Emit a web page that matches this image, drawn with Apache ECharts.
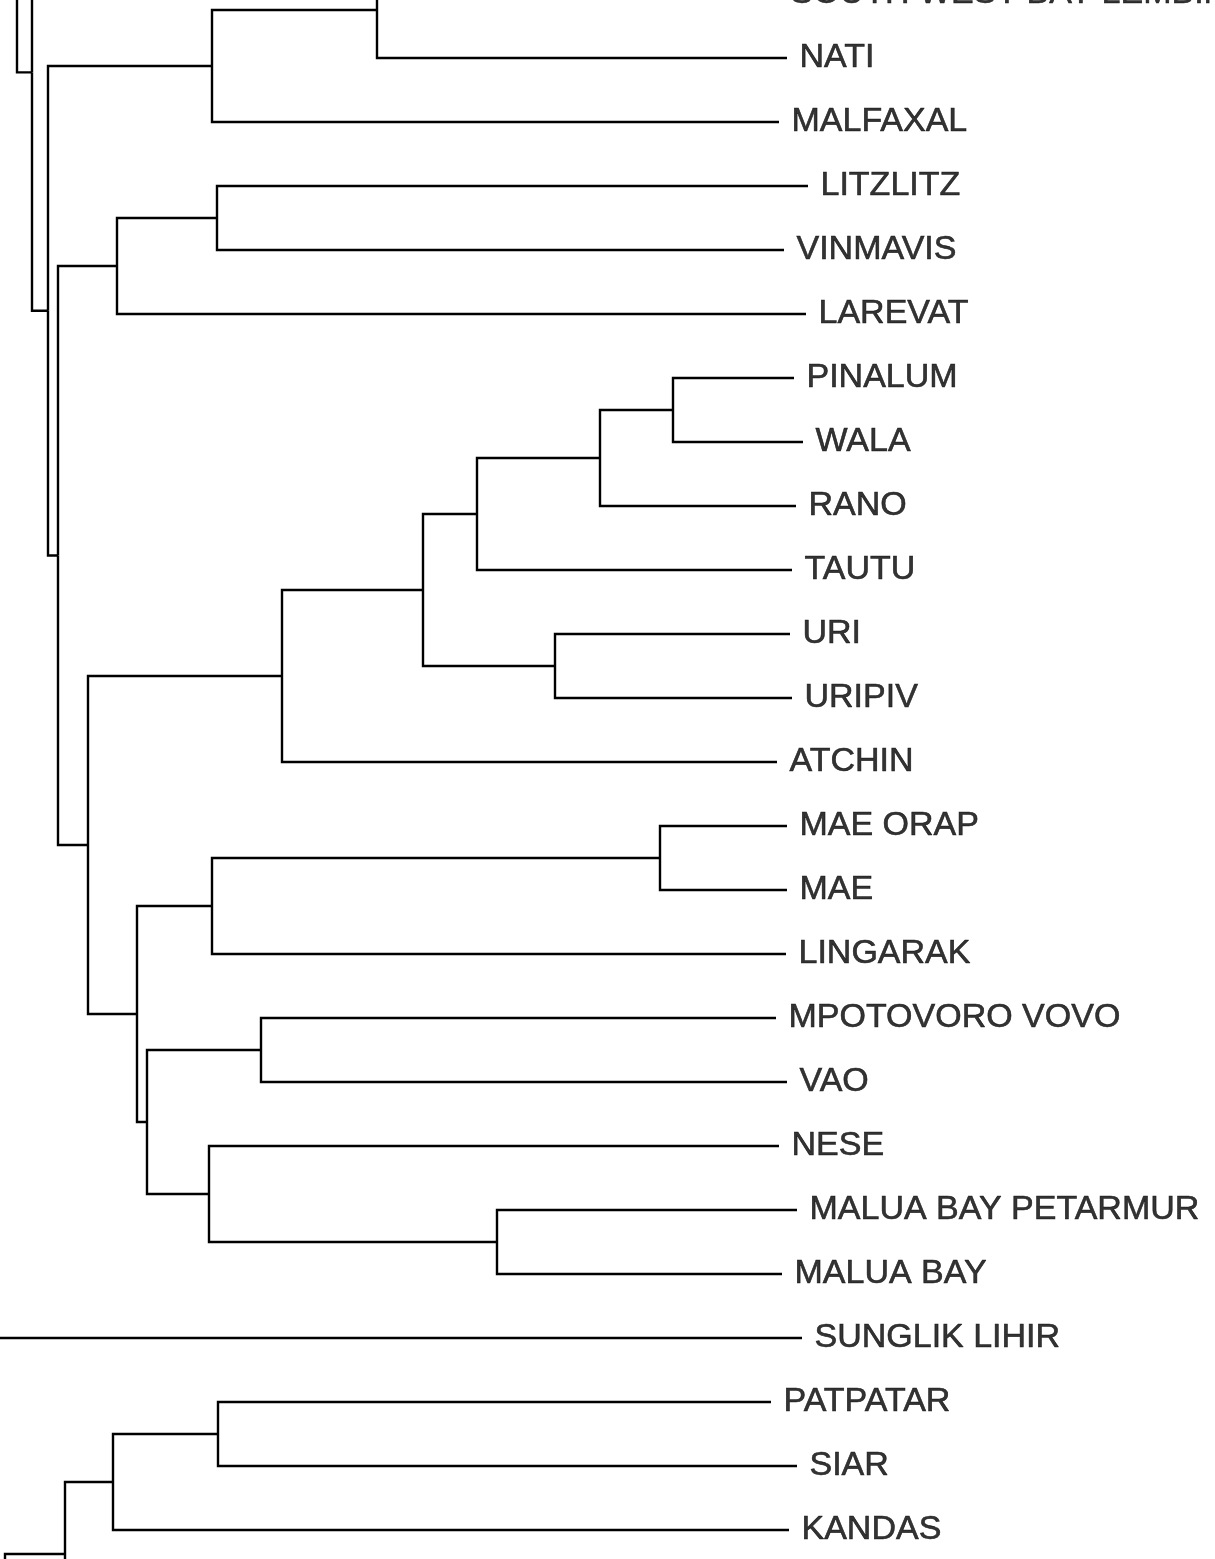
<!DOCTYPE html>
<html>
<head>
<meta charset="utf-8">
<script src="https://cdn.jsdelivr.net/npm/echarts@6/dist/echarts.min.js"></script>
<style>
  html, body { margin: 0; padding: 0; background: #fff; }
  #chart { width: 1215px; height: 1559px; }
</style>
</head>
<body>
<div id="chart"></div>
<script>
// Leaves, top to bottom (rows). Empty names = tips lying outside the visible crop.
const leafNames = [
  '', '', '', '',
  'SOUTH WEST BAY LEMBINWEN',
  'NATI', 'MALFAXAL', 'LITZLITZ', 'VINMAVIS', 'LAREVAT',
  'PINALUM', 'WALA', 'RANO', 'TAUTU', 'URI', 'URIPIV', 'ATCHIN',
  'MAE ORAP', 'MAE', 'LINGARAK', 'MPOTOVORO VOVO', 'VAO', 'NESE',
  'MALUA BAY PETARMUR', 'MALUA BAY', 'SUNGLIK LIHIR',
  'PATPATAR', 'SIAR', 'KANDAS',
  '', '', ''
];
// Tip depth (distance from root) of each leaf
const leafDepth = [
  0.805, 0.815, 0.815, 0.815,
  0.803,
  0.812, 0.804, 0.833, 0.809, 0.831,
  0.819, 0.828, 0.821, 0.817, 0.815, 0.817, 0.802,
  0.812, 0.812, 0.811, 0.801, 0.812, 0.804,
  0.822, 0.807, 0.827,
  0.796, 0.822, 0.814,
  0.810, 0.810, 0.810
];
// Internal clades: id, children (numbers = leaf rows, strings = clade ids), node depth
const cladeIds = ['U1','A1','A','B','C','D','E','F','G','H','I','J','K','L','M','N','O','P','Q','R','S','T','U','V','W','X','Y1','Y','Z','R2','ROOT'];
const cladeChildren = [
  [1, 2], [3, 4], ['A1', 5], ['A', 6], [7, 8], ['C', 9],
  [10, 11], ['E', 12], ['F', 13], [14, 15], ['G', 'H'], ['I', 16],
  [17, 18], ['K', 19], [20, 21], [23, 24], [22, 'N'], ['M', 'O'],
  ['L', 'P'], ['J', 'Q'], ['D', 'R'], ['B', 'S'], ['U1', 'T'], [0, 'U'],
  [26, 27], ['W', 28], [29, 30], ['X', 'Y1'], ['Y', 31], ['V', 25], ['R2', 'Z']
];
const cladeDepth = [
  0.325, 0.625, 0.402, 0.237, 0.242, 0.142,
  0.698, 0.625, 0.502, 0.580, 0.448, 0.307,
  0.685, 0.237, 0.286, 0.522, 0.234, 0.172,
  0.162, 0.113, 0.083, 0.073, 0.057, 0.042,
  0.243, 0.138, 0.425, 0.090, 0.030, 0.015, 0.000
];

// ---- build geometry in data space ----
const cladeIndex = {};
cladeIds.forEach((id, i) => { cladeIndex[id] = i; });
const yCache = {};
function nodeY(ref) {
  if (typeof ref === 'number') return ref;
  if (yCache[ref] !== undefined) return yCache[ref];
  const ch = cladeChildren[cladeIndex[ref]];
  const y = (nodeY(ch[0]) + nodeY(ch[ch.length - 1])) / 2;
  yCache[ref] = y;
  return y;
}
function nodeX(ref) {
  return typeof ref === 'number' ? leafDepth[ref] : cladeDepth[cladeIndex[ref]];
}
// each edge: [parentDepth, parentY, childDepth, childY]
const edges = [];
cladeIds.forEach((id, i) => {
  const px = cladeDepth[i], py = nodeY(id);
  cladeChildren[i].forEach(ch => {
    edges.push([px, py, nodeX(ch), nodeY(ch)]);
  });
});
const labelData = [];
leafNames.forEach((n, i) => { if (n) labelData.push([leafDepth[i], i, n]); });

const chart = echarts.init(document.getElementById('chart'), null, { renderer: 'canvas' });
chart.setOption({
  animation: false,
  backgroundColor: '#ffffff',
  grid: { left: 0, right: 0, top: 0, bottom: 0 },
  xAxis: { type: 'value', min: 0.025, max: 1.240, show: false },
  yAxis: { type: 'value', inverse: true, min: 4.09375, max: 28.453125, show: false },
  series: [
    {
      type: 'custom',
      coordinateSystem: 'cartesian2d',
      silent: true,
      clip: false,
      encode: { x: [0, 2], y: [1, 3] },
      data: edges,
      renderItem: function (params, api) {
        const p0 = api.coord([api.value(0), api.value(1)]);
        const p1 = api.coord([api.value(0), api.value(3)]);
        const p2 = api.coord([api.value(2), api.value(3)]);
        return {
          type: 'polyline',
          shape: { points: [p0, p1, p2] },
          style: { stroke: '#000', lineWidth: 2.4, fill: null, lineJoin: 'miter', lineCap: 'butt' }
        };
      }
    },
    {
      type: 'scatter',
      symbolSize: 1,
      clip: false,
      itemStyle: { color: 'rgba(0,0,0,0)' },
      silent: true,
      data: labelData,
      label: {
        show: true,
        position: 'right',
        distance: 12,
        formatter: p => p.value[2],
        color: '#000',
        fontSize: 34,
        fontFamily: 'Liberation Sans, Arial, sans-serif',
        textBorderColor: '#000',
        textBorderWidth: 0.6
      }
    }
  ]
});
</script>
</body>
</html>
